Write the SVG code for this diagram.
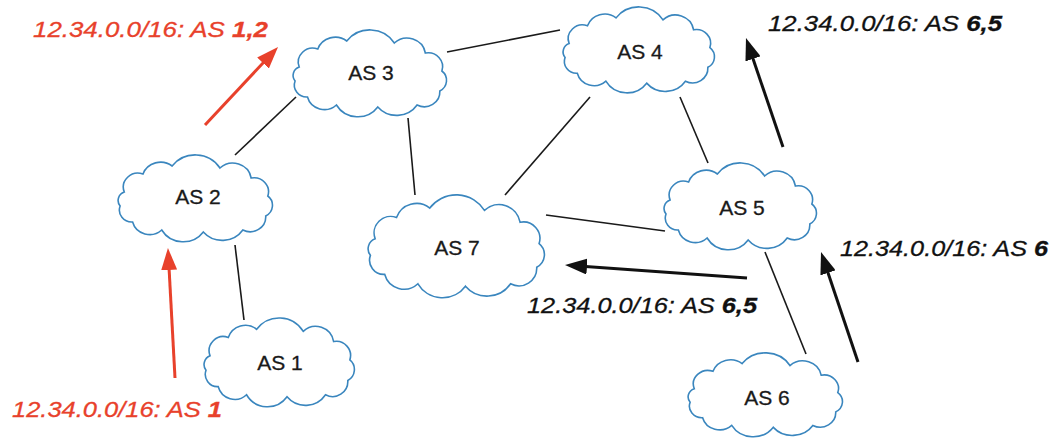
<svg xmlns="http://www.w3.org/2000/svg" width="1056" height="439" viewBox="0 0 1056 439">
  <style>
    .cloud { fill: #ffffff; stroke: #3a86be; stroke-width: 1.6; }
    .label { font-family: "Liberation Sans", Arial, sans-serif; font-size: 21px; fill: #1a1a1a; stroke: #1a1a1a; stroke-width: 0.3; text-anchor: middle; }
    .link { stroke: #1a1a1a; stroke-width: 1.6; fill: none; }
    .adv-red { stroke: #e8412b; stroke-width: 3; fill: none; marker-end: url(#head-red); }
    .adv-black { stroke: #111111; stroke-width: 3; fill: none; marker-end: url(#head-black); }
    .route { font-family: "Liberation Sans", Arial, sans-serif; font-size: 22px; font-style: italic; stroke-width: 0.3; }
    .route-red { fill: #e8412b; stroke: #e8412b; }
    .route-black { fill: #111111; stroke: #111111; }
    .b { font-weight: bold; }
  </style>
  <defs>
    <!-- scalloped cloud outline; drawn extent x 6..155, y 1..88 -->
    <path id="cloud-shape" vector-effect="non-scaling-stroke" d="M12,38 A14,14 0 0 1 30,20 A18,18 0 0 1 58,12 A28,28 0 0 1 104,14 A18,18 0 0 1 134,24 A14,14 0 0 1 150,42 A12,12 0 0 1 148,62 A15,15 0 0 1 126,76 A24,24 0 0 1 88,78 A24,24 0 0 1 48,76 A17,17 0 0 1 20,68 A12,12 0 0 1 8,52 A9,9 0 0 1 12,38 Z"/>
    <marker id="head-red" viewBox="0 0 22 16" refX="12" refY="8" markerWidth="22" markerHeight="16" markerUnits="userSpaceOnUse" orient="auto">
      <path d="M0,0 L22,8 L0,16 Z" fill="#e8412b"/>
    </marker>
    <marker id="head-black" viewBox="0 0 22 16" refX="12" refY="8" markerWidth="22" markerHeight="16" markerUnits="userSpaceOnUse" orient="auto">
      <path d="M0,0 L22,8 L0,16 Z" fill="#111111"/>
    </marker>
  </defs>

  <!-- peering links -->
  <g id="links">
    <line class="link" x1="447" y1="52" x2="560" y2="30"/>
    <line class="link" x1="296" y1="97" x2="235" y2="155"/>
    <line class="link" x1="408" y1="118" x2="415" y2="195"/>
    <line class="link" x1="590" y1="97" x2="505" y2="195"/>
    <line class="link" x1="680" y1="97" x2="708" y2="163"/>
    <line class="link" x1="546" y1="215" x2="665" y2="231"/>
    <line class="link" x1="235" y1="245" x2="244" y2="320"/>
    <line class="link" x1="765" y1="252" x2="806" y2="354"/>
  </g>

  <!-- route advertisements -->
  <g id="advertisements">
    <line class="adv-red" x1="205" y1="125" x2="271.2" y2="54.3"/>
    <line class="adv-red" x1="175" y1="378" x2="168.5" y2="258"/>
    <line class="adv-black" x1="783" y1="147" x2="749.2" y2="47.5"/>
    <line class="adv-black" x1="747" y1="278" x2="575" y2="265.7"/>
    <line class="adv-black" x1="858" y1="362" x2="824.2" y2="261.5"/>
  </g>

  <g id="as1">
    <use class="cloud" href="#cloud-shape" transform="translate(197.9,317) scale(1.013,1.023)"/>
    <text class="label" x="280" y="370">AS 1</text>
  </g>
  <g id="as2">
    <use class="cloud" href="#cloud-shape" transform="translate(111.8,154) scale(1.04,1)"/>
    <text class="label" x="198" y="204">AS 2</text>
  </g>
  <g id="as3">
    <use class="cloud" href="#cloud-shape" transform="translate(286.8,29) scale(1.034,1)"/>
    <text class="label" x="371" y="80">AS 3</text>
  </g>
  <g id="as4">
    <use class="cloud" href="#cloud-shape" transform="translate(556.9,6) scale(1.02,0.989)"/>
    <text class="label" x="640" y="59">AS 4</text>
  </g>
  <g id="as5">
    <use class="cloud" href="#cloud-shape" transform="translate(657.8,162) scale(1.027,1)"/>
    <text class="label" x="742" y="215">AS 5</text>
  </g>
  <g id="as6">
    <use class="cloud" href="#cloud-shape" transform="translate(681.8,352) scale(1.04,0.966)"/>
    <text class="label" x="767" y="405">AS 6</text>
  </g>
  <g id="as7">
    <use class="cloud" href="#cloud-shape" transform="translate(360.9,193.8) scale(1.188,1.184)"/>
    <text class="label" x="457" y="255">AS 7</text>
  </g>

  <!-- prefix / AS-path annotations -->
  <g id="annotations">
    <text class="route route-red" x="33" y="37" textLength="235" lengthAdjust="spacingAndGlyphs">12.34.0.0/16: AS <tspan class="b">1,2</tspan></text>
    <text class="route route-red" x="12" y="417" textLength="210" lengthAdjust="spacingAndGlyphs">12.34.0.0/16: AS <tspan class="b">1</tspan></text>
    <text class="route route-black" x="768" y="31" textLength="234" lengthAdjust="spacingAndGlyphs">12.34.0.0/16: AS <tspan class="b">6,5</tspan></text>
    <text class="route route-black" x="840" y="256" textLength="208" lengthAdjust="spacingAndGlyphs">12.34.0.0/16: AS <tspan class="b">6</tspan></text>
    <text class="route route-black" x="527" y="313" textLength="230" lengthAdjust="spacingAndGlyphs">12.34.0.0/16: AS <tspan class="b">6,5</tspan></text>
  </g>
</svg>
